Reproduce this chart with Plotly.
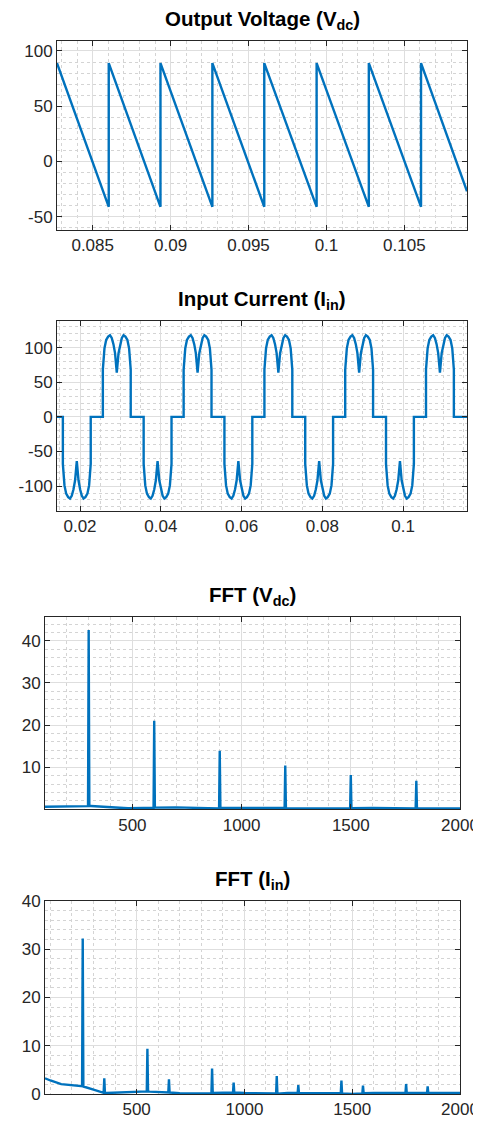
import plotly.graph_objects as go

# ---------------- data ----------------
# Output voltage Vdc: sawtooth vertices (time in s, value in V)
vdc_time = [0.08271, 0.08603, 0.08603, 0.08935, 0.08935, 0.09268, 0.09268,
            0.09601, 0.09601, 0.09937, 0.09937, 0.10272, 0.10272, 0.10607,
            0.10607, 0.10902]
vdc_value = [89, -41, 89, -41, 89, -41, 89, -41, 89, -41, 89, -41, 89, -41,
             89, -27]

# Input current Iin: one current pulse as read (offset from pulse centre, A)
pulse_offset = [-0.00345, -0.00345, -0.00305, -0.00263, -0.00213, -0.00168,
                -0.00125, -0.00083, -0.00043, 0.0, 0.00043, 0.00083, 0.00125,
                0.00168, 0.00213, 0.00263, 0.00305, 0.00345, 0.00345]
pulse_value = [0, 68, 99, 111, 116, 118, 114, 105, 92, 64, 92, 105, 114, 118,
               116, 111, 99, 68, 0]
# pulse centres and polarity
pulse_center = [0.0192, 0.0291, 0.0392, 0.0491, 0.0592, 0.0691, 0.0792,
                0.0891, 0.0992, 0.1091]
pulse_sign = [-1, 1, -1, 1, -1, 1, -1, 1, -1, 1]
iin_start, iin_end = 0.0143, 0.1158

# FFT of Vdc (Hz, magnitude)
fft_vdc_f = [100, 200, 290, 297, 300, 303, 310, 400, 480, 550, 597, 600, 603,
             700, 800, 897, 900, 903, 1000, 1100, 1197, 1200, 1203, 1300,
             1400, 1497, 1500, 1503, 1600, 1700, 1797, 1800, 1803, 1900, 2000]
fft_vdc_a = [0.6, 0.7, 0.75, 0.75, 42.6, 0.8, 0.8, 0.6, 0.25, 0.3, 0.35, 21.0,
             0.4, 0.45, 0.35, 0.2, 13.9, 0.3, 0.35, 0.4, 0.3, 10.4, 0.25, 0.2,
             0.2, 0.2, 8.15, 0.25, 0.3, 0.25, 0.2, 6.8, 0.2, 0.2, 0.2]

# FFT of Iin (Hz, magnitude)
fft_iin_f = [75, 100, 150, 200, 247, 250, 253, 300, 340, 347, 350, 353, 360,
             450, 540, 547, 550, 553, 560, 600, 640, 647, 650, 653, 700, 800,
             847, 850, 853, 900, 947, 950, 953, 1000, 1100, 1147, 1150, 1153,
             1200, 1247, 1250, 1253, 1300, 1400, 1447, 1450, 1453, 1500, 1547,
             1550, 1553, 1600, 1700, 1747, 1750, 1753, 1800, 1847, 1850, 1853,
             1900, 2000]
fft_iin_a = [3.26, 2.8, 2.05, 1.78, 1.6, 32.2, 1.55, 0.9, 0.3, 0.25, 3.26, 0.2,
             0.2, 0.3, 0.5, 0.55, 9.35, 0.55, 0.5, 0.4, 0.35, 0.3, 3.05, 0.3,
             0.15, 0.1, 0.1, 5.3, 0.2, 0.25, 0.3, 2.35, 0.3, 0.2, 0.15, 0.1,
             3.74, 0.05, 0.2, 0.2, 1.87, 0.2, 0.15, 0.15, 0.2, 2.77, 0.1, 0.0,
             0.1, 1.73, 0.15, 0.2, 0.2, 0.2, 2.08, 0.2, 0.2, 0.2, 1.6, 0.2,
             0.2, 0.2]

titles = ["Output Voltage (V<sub>dc</sub>)", "Input Current (I<sub>in</sub>)",
          "FFT (V<sub>dc</sub>)", "FFT (I<sub>in</sub>)"]

# ---------------- assemble current waveform from read pulses ----------------
iin_t = [iin_start]
iin_v = [0]
for c, s in zip(pulse_center, pulse_sign):
    for o, v in zip(pulse_offset, pulse_value):
        iin_t.append(c + o)
        iin_v.append(s * v)
iin_t.append(iin_end)
iin_v.append(0)

# ---------------- figure ----------------
# the page body has a default 8 px margin, so the figure is placed 8 px in
OX, OY = 8, 8
W, H = 481 - OX, 1124 - OY
BLUE = "#0072BD"
FONT = "Liberation Sans, Arial, Helvetica, sans-serif"
AX = "#262626"
LW = 2.4


def px_x(a, b):
    return [(a - OX) / W, (b - OX) / W]


def px_y(top, bottom):
    return [1 - (bottom - OY) / H, 1 - (top - OY) / H]


fig = go.Figure()
fig.add_trace(go.Scatter(x=vdc_time, y=vdc_value, mode="lines",
                         line=dict(color=BLUE, width=LW), xaxis="x", yaxis="y"))
fig.add_trace(go.Scatter(x=iin_t, y=iin_v, mode="lines",
                         line=dict(color=BLUE, width=LW), xaxis="x2", yaxis="y2"))
fig.add_trace(go.Scatter(x=fft_vdc_f, y=fft_vdc_a, mode="lines",
                         line=dict(color=BLUE, width=LW), xaxis="x3", yaxis="y3"))
fig.add_trace(go.Scatter(x=fft_iin_f, y=fft_iin_a, mode="lines",
                         line=dict(color=BLUE, width=LW), xaxis="x4", yaxis="y4"))


def axis(domain, rng, tickvals, ticktext, minor_dtick, anchor):
    return dict(
        domain=domain, range=rng, anchor=anchor, automargin=False,
        tickmode="array", tickvals=tickvals, ticktext=ticktext,
        showline=True, linecolor=AX, linewidth=1, mirror="ticks",
        ticks="inside", ticklen=5, tickcolor=AX, tickwidth=1,
        showgrid=True, gridcolor="#dedede", gridwidth=1, zeroline=False,
        tickfont=dict(family=FONT, size=17, color=AX),
        minor=dict(dtick=minor_dtick, showgrid=True, gridcolor="#d4d4d4",
                   griddash="dot", gridwidth=1, ticks=""),
        fixedrange=True,
    )


boxes = [
    (57, 467, 41, 230),
    (57, 467, 321.3, 511),
    (45, 460, 617.3, 809.3),
    (45, 460, 901, 1094),
]

layout = dict(
    template="none",
    width=W, height=H, autosize=False, showlegend=False,
    margin=dict(l=0, r=0, t=0, b=0, pad=0),
    paper_bgcolor="white", plot_bgcolor="white",
    font=dict(family=FONT, color=AX),
)

# axis 1
layout["xaxis"] = axis(px_x(57, 467), [0.08271, 0.10902],
                       [0.085, 0.09, 0.095, 0.1, 0.105],
                       ["0.085", "0.09", "0.095", "0.1", "0.105"], 0.001, "y")
layout["yaxis"] = axis(px_y(41, 230), [-62, 109], [-50, 0, 50, 100],
                       ["-50", "0", "50", "100"], 10, "x")
# axis 2
layout["xaxis2"] = axis(px_x(57, 467), [iin_start, iin_end],
                        [0.02, 0.04, 0.06, 0.08, 0.1],
                        ["0.02", "0.04", "0.06", "0.08", "0.1"], 0.005, "y2")
layout["yaxis2"] = axis(px_y(321.3, 511), [-136, 138], [-100, -50, 0, 50, 100],
                        ["-100", "-50", "0", "50", "100"], 10, "x2")
# axis 3
layout["xaxis3"] = axis(px_x(45, 460), [100, 2000], [500, 1000, 1500, 2000],
                        ["500", "1000", "1500", "2000"], 100, "y3")
layout["yaxis3"] = axis(px_y(617.3, 809.3), [0, 45.6], [10, 20, 30, 40],
                        ["10", "20", "30", "40"], 2, "x3")
# axis 4
layout["xaxis4"] = axis(px_x(45, 460), [75, 2000], [500, 1000, 1500, 2000],
                        ["500", "1000", "1500", "2000"], 100, "y4")
layout["yaxis4"] = axis(px_y(901, 1094), [0, 40], [0, 10, 20, 30, 40],
                        ["0", "10", "20", "30", "40"], 2, "x4")

annotations = []
for (l, r, t, b), title in zip(boxes, titles):
    annotations.append(dict(
        text="<b>" + title + "</b>", xref="paper", yref="paper",
        x=((l + r) / 2 - OX) / W, y=1 - (t - 6 - OY) / H,
        xanchor="center", yanchor="bottom",
        showarrow=False, font=dict(family=FONT, size=20.5, color="black"),
    ))
layout["annotations"] = annotations

fig.update_layout(**layout)
fig.write_html("out.html")
